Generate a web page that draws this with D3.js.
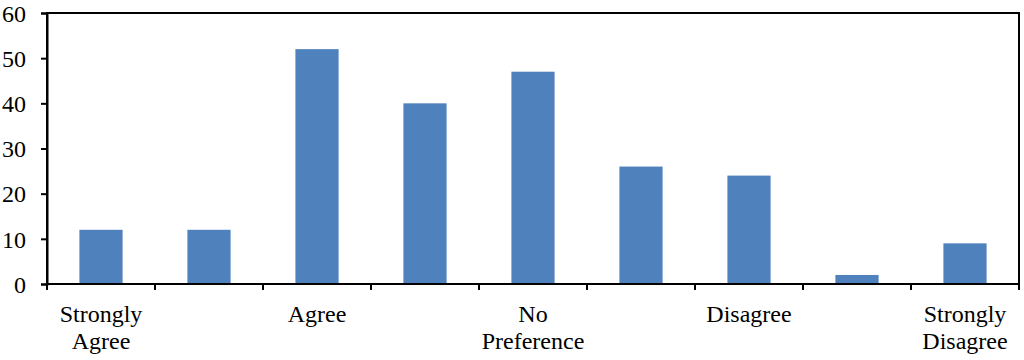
<!DOCTYPE html>
<html><head><meta charset="utf-8">
<script src="https://cdn.jsdelivr.net/npm/d3@7"></script>
<style>body{margin:0;background:#fff;font-family:"Liberation Serif",serif}svg{display:block;font-family:"Liberation Serif",serif}</style>
</head><body>
<svg id="c" width="1024" height="360" font-family="Liberation Serif"></svg>
<script>
const categories = ["c1","c2","c3","c4","c5","c6","c7","c8","c9"];
const values = [12, 12, 52, 40, 47, 26, 24, 2, 9];
const categoryLabels = [["Strongly","Agree"],[],["Agree"],[],["No","Preference"],[],["Disagree"],[],["Strongly","Disagree"]];
const yTicks = [0, 10, 20, 30, 40, 50, 60];

const svg = d3.select("#c");
const m = {left: 47, right: 1019, top: 13, bottom: 284};
const x = d3.scaleBand().domain(categories).range([m.left, m.right]).paddingInner(0.6).paddingOuter(0.3);
const xc = d3.scaleBand().domain(categories).range([m.left, m.right]);
const y = d3.scaleLinear().domain([0, 60]).range([m.bottom, m.top]);
const FONT = "Liberation Serif";
const FS = 24;

svg.selectAll("rect.bar").data(values).enter().append("rect")
  .attr("class","bar")
  .attr("x",(d,i)=>x(categories[i]))
  .attr("width",x.bandwidth())
  .attr("y",d=>y(d))
  .attr("height",d=>y(0)-y(d))
  .attr("fill","#4f81bd");

// frame
svg.append("rect").attr("x",m.left).attr("y",m.top).attr("width",m.right-m.left).attr("height",m.bottom-m.top)
  .attr("fill","none").attr("stroke","#000").attr("stroke-width",2);

// y axis
const ya = svg.append("g").attr("transform",`translate(${m.left},0)`)
  .call(d3.axisLeft(y).tickValues(yTicks).tickSize(6).tickPadding(15));
ya.attr("font-family",FONT).attr("font-size",FS);
ya.select(".domain").attr("stroke-width",2);
ya.selectAll(".tick line").attr("stroke-width",2);
ya.selectAll("text").attr("dy","0.34em").attr("font-family",FONT).attr("font-size",FS)
  .style("font-family",FONT).style("font-size",FS+"px").style("fill","#000");

// x ticks at category boundaries
const bounds = categories.map(c=>xc(c)).concat([m.right]);
svg.selectAll("line.xt").data(bounds).enter().append("line")
  .attr("x1",d=>d).attr("x2",d=>d).attr("y1",m.bottom).attr("y2",m.bottom+6)
  .attr("stroke","#000").attr("stroke-width",2);

// x labels (one text per line)
categories.forEach((c,i)=>{
  categoryLabels[i].forEach((ln,j)=>{
    svg.append("text").attr("text-anchor","middle")
      .attr("font-family",FONT).attr("font-size",FS)
      .style("font-family",FONT).style("font-size",FS+"px").style("fill","#000")
      .attr("x",xc(c)+xc.bandwidth()/2).attr("y",322+j*26.5).text(ln);
  });
});
</script>
</body></html>
